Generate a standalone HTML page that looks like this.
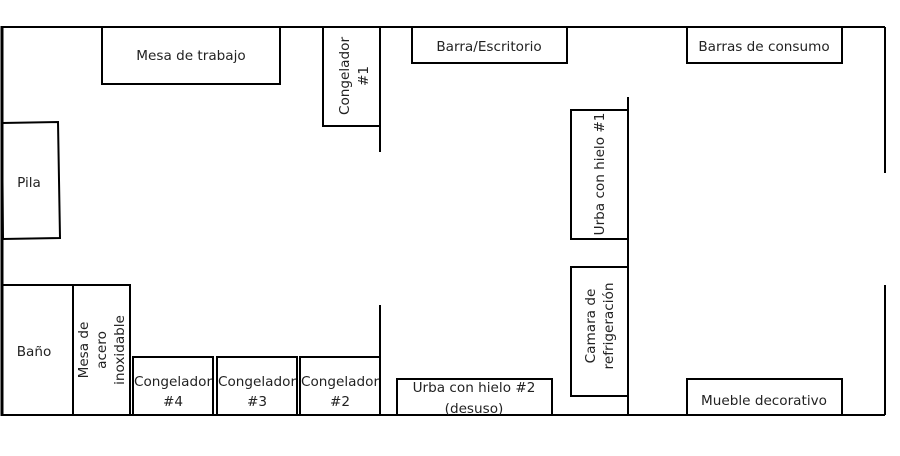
<!DOCTYPE html>
<html><head><meta charset="utf-8"><style>
html,body{margin:0;padding:0;background:#fff;}
svg{display:block}
text{font-family:"DejaVu Sans","Liberation Sans",sans-serif;font-size:13.6px;fill:#222;}
</style></head><body>
<svg width="900" height="456" viewBox="0 0 900 456" xmlns="http://www.w3.org/2000/svg">
<g stroke="#000" stroke-width="2" fill="none">
<line x1="2" y1="27" x2="885" y2="27"/>
<line x1="2" y1="415" x2="885" y2="415"/>
<line x1="2" y1="26" x2="2" y2="416" stroke-width="3"/>
<line x1="885" y1="27" x2="885" y2="173"/>
<line x1="885" y1="285" x2="885" y2="415"/>
<line x1="628" y1="97" x2="628" y2="415"/>
<line x1="380" y1="27" x2="380" y2="152"/>
<line x1="380" y1="305" x2="380" y2="415"/>
<rect x="102" y="27" width="178" height="57"/>
<rect x="323" y="27" width="57" height="99"/>
<rect x="412" y="27" width="155" height="36"/>
<rect x="687" y="27" width="155" height="36"/>
<polygon points="2,123 58,122 60,238 3,239"/>
<rect x="571" y="110" width="57" height="129"/>
<rect x="571" y="267" width="57" height="129"/>
<rect x="2" y="285" width="71" height="130"/>
<rect x="73" y="285" width="57" height="130"/>
<rect x="133" y="357" width="80" height="58"/>
<rect x="217" y="357" width="80" height="58"/>
<rect x="300" y="357" width="80" height="58"/>
<rect x="397" y="379" width="155" height="36"/>
<rect x="687" y="379" width="155" height="36"/>
</g>
<text x="191" y="60" text-anchor="middle">Mesa de trabajo</text>
<text x="489" y="51" text-anchor="middle">Barra/Escritorio</text>
<text x="764" y="51" text-anchor="middle">Barras de consumo</text>
<text x="764" y="405" text-anchor="middle">Mueble decorativo</text>
<text x="474" y="392" text-anchor="middle">Urba con hielo #2</text>
<text x="474" y="413" text-anchor="middle">(desuso)</text>
<text x="29" y="187" text-anchor="middle">Pila</text>
<text x="34" y="356" text-anchor="middle">Baño</text>
<text x="173" y="386" text-anchor="middle">Congelador</text>
<text x="173" y="406" text-anchor="middle">#4</text>
<text x="257" y="386" text-anchor="middle">Congelador</text>
<text x="257" y="406" text-anchor="middle">#3</text>
<text x="340" y="386" text-anchor="middle">Congelador</text>
<text x="340" y="406" text-anchor="middle">#2</text>
<g transform="translate(351,76) rotate(-90)">
<text x="0" y="-2" text-anchor="middle">Congelador</text>
<text x="0" y="17" text-anchor="middle">#1</text>
</g>
<g transform="translate(101,350) rotate(-90)">
<text x="0" y="-13" text-anchor="middle">Mesa de</text>
<text x="0" y="5" text-anchor="middle">acero</text>
<text x="0" y="23" text-anchor="middle">inoxidable</text>
</g>
<g transform="translate(599,174) rotate(-90)">
<text x="0" y="5" text-anchor="middle">Urba con hielo #1</text>
</g>
<g transform="translate(599,326) rotate(-90)">
<text x="0" y="-4" text-anchor="middle">Camara de</text>
<text x="0" y="14" text-anchor="middle">refrigeración</text>
</g>
</svg>
</body></html>
